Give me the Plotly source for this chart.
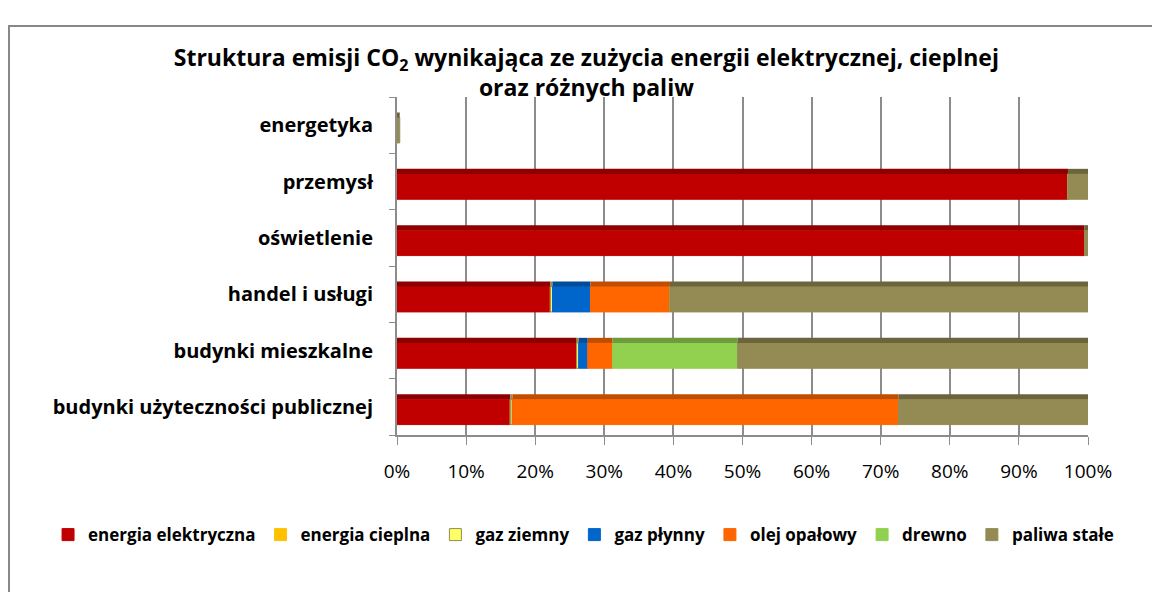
import plotly.graph_objects as go

# categories bottom -> top
categories = ['budynki użyteczności publicznej', 'budynki mieszkalne',
              'handel i usługi', 'oświetlenie', 'przemysł', 'energetyka']

energia_elektryczna = [16.4, 26.0, 22.2, 99.5, 97.1, 0.0]
energia_cieplna = [0.0, 0.0, 0.0, 0.0, 0.0, 0.0]
gaz_ziemny = [0.3, 0.3, 0.3, 0.0, 0.0, 0.0]
gaz_plynny = [0.0, 1.3, 5.5, 0.0, 0.0, 0.0]
olej_opalowy = [55.9, 3.6, 11.5, 0.0, 0.0, 0.0]
drewno = [0.0, 18.1, 0.0, 0.0, 0.0, 0.0]
paliwa_stale = [27.4, 50.7, 60.5, 0.5, 2.9, 0.4]

tick_vals = list(range(0, 101, 10))
tick_text = [f'{v}%' for v in tick_vals]

# name, values, fill, edge, darker top face
series = [
    ('energia elektryczna', energia_elektryczna, '#C00000', '#C00000', '#8E0000'),
    ('energia cieplna', energia_cieplna, '#FFC000', '#FFC000', '#C79500'),
    ('gaz ziemny', gaz_ziemny, '#FFFF66', '#948A54', '#948A54'),
    ('gaz płynny', gaz_plynny, '#0066CC', '#0066CC', '#004C99'),
    ('olej opałowy', olej_opalowy, '#FF6600', '#FF6600', '#C04D00'),
    ('drewno', drewno, '#92D050', '#92D050', '#6E9C3C'),
    ('paliwa stałe', paliwa_stale, '#948A54', '#948A54', '#6B643C'),
]

fig = go.Figure()
base = [0.0] * len(categories)
for name, vals, col, lcol, dcol in series:
    # front face
    fig.add_trace(go.Bar(y=categories, x=vals, base=list(base), name=name,
                         orientation='h', width=0.45, offset=-0.315,
                         marker=dict(color=col, line=dict(color=lcol, width=1))))
    # darker top face for a bit of depth
    fig.add_trace(go.Bar(y=categories, x=vals, base=list(base), name=name,
                         orientation='h', width=0.09, offset=0.135,
                         marker=dict(color=dcol, line=dict(width=0)),
                         showlegend=False, hoverinfo='skip'))
    base = [b + v for b, v in zip(base, vals)]

fig.update_layout(
    barmode='overlay',
    width=1152, height=592,
    paper_bgcolor='white', plot_bgcolor='white',
    font=dict(family='Open Sans, sans-serif', color='black'),
    margin=dict(l=397, r=64, t=97, b=157),
    title=dict(text='Struktura emisji CO<sub>2</sub> wynikająca ze zużycia energii '
                    'elektrycznej, cieplnej<br>oraz różnych paliw',
               x=0.509, xanchor='center', y=0.888, yanchor='middle',
               font=dict(size=23, weight='bold')),
    showlegend=True,
    legend=dict(orientation='h', x=-0.505, xanchor='left',
                y=-0.296, yanchor='middle', traceorder='normal',
                font=dict(size=17, weight='bold'), itemwidth=30,
                tracegroupgap=0),
)
fig.update_xaxes(range=[0, 100], tickvals=tick_vals, ticktext=tick_text,
                 showgrid=True, gridcolor='#8C8C8C', gridwidth=1.5,
                 showline=True, linecolor='#8C8C8C', linewidth=1.5,
                 ticks='outside', ticklen=8, tickcolor='#8C8C8C',
                 ticklabelstandoff=10, tickfont=dict(size=19), zeroline=False)
fig.update_yaxes(showline=True, linecolor='#8C8C8C', linewidth=2,
                 ticks='outside', ticklen=6, tickcolor='#8C8C8C',
                 tickson='boundaries', ticklabelstandoff=18,
                 tickfont=dict(size=20, weight='bold'), showgrid=False)

# outer chart border
fig.add_shape(type='rect', xref='paper', yref='paper',
              x0=-0.5615, x1=1.2, y0=-0.6, y1=1.21,
              line=dict(color='#888888', width=2), fillcolor='rgba(0,0,0,0)',
              layer='below')

fig.write_html('out.html', config={'displayModeBar': False},
               post_script="document.body.style.margin='0';")
